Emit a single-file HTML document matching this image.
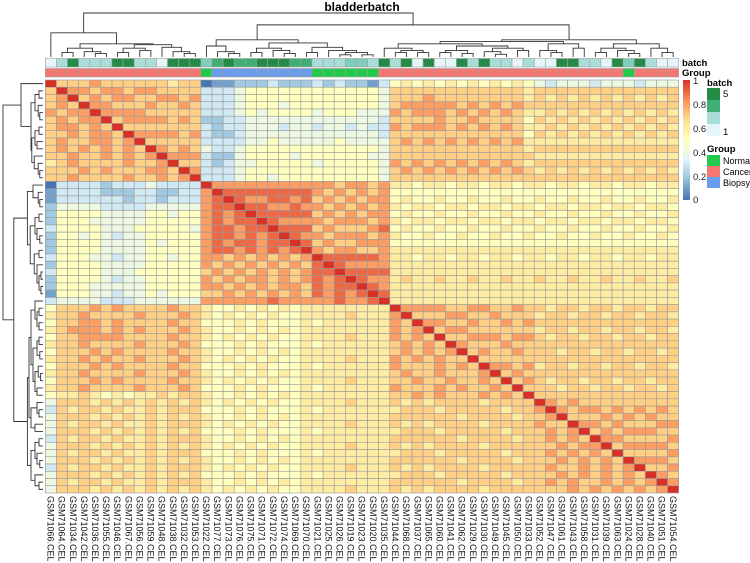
<!DOCTYPE html>
<html><head><meta charset="utf-8"><title>bladderbatch</title>
<style>
html,body{margin:0;padding:0;background:#fff;}
svg{display:block;font-family:"Liberation Sans",Arial,sans-serif;}
</style></head>
<body>
<svg id="chart" width="750" height="563" viewBox="0 0 750 563" xmlns="http://www.w3.org/2000/svg">
<g id="dendroTop" fill="none" stroke="#333" stroke-width="0.9"></g>
<g id="dendroLeft" fill="none" stroke="#333" stroke-width="0.9"></g>
<rect x="325" y="1" width="78" height="11" fill="#fff"/>
<text x="362" y="11" text-anchor="middle" font-size="12" font-weight="bold">bladderbatch</text>
<g id="annot"></g>
<g id="cells"></g>
<g id="labels"></g>
<text x="682" y="66" font-size="9.5" font-weight="bold">batch</text>
<text x="682" y="76" font-size="9.5" font-weight="bold">Group</text>
<defs>
<linearGradient id="cbar" x1="0" y1="1" x2="0" y2="0">
<stop offset="0" stop-color="#4575B4"/><stop offset="0.1667" stop-color="#91BFDB"/><stop offset="0.3333" stop-color="#E0F3F8"/><stop offset="0.5" stop-color="#FFFFBF"/><stop offset="0.6667" stop-color="#FEE090"/><stop offset="0.8333" stop-color="#FC8D59"/><stop offset="1" stop-color="#D73027"/>
</linearGradient>
</defs>
<g>
<rect x="683" y="80" width="7" height="120" fill="url(#cbar)"/>
<g font-size="9.5" fill="#222">
<text x="693" y="84">1</text>
<text x="693" y="108">0.8</text>
<text x="693" y="132">0.6</text>
<text x="693" y="156">0.4</text>
<text x="693" y="180">0.2</text>
<text x="693" y="203">0</text>
</g>
</g>
<g>
<text x="707" y="86" font-size="9.5" font-weight="bold">batch</text>
<rect x="707" y="88" width="13" height="12" fill="#238B45"/>
<rect x="707" y="100" width="13" height="12" fill="#41AE76"/>
<rect x="707" y="112" width="13" height="12" fill="#A8DDD8"/>
<rect x="707" y="124" width="13" height="12" fill="#E5F5F9"/>
<text x="723" y="97" font-size="9.5">5</text>
<text x="723" y="135" font-size="9.5">1</text>
</g>
<g>
<text x="707" y="152" font-size="9.5" font-weight="bold">Group</text>
<rect x="707" y="155" width="13" height="11" fill="#22C94A"/>
<rect x="707" y="166" width="13" height="11" fill="#F47772"/>
<rect x="707" y="177" width="13" height="11" fill="#6A9CEC"/>
<text x="723" y="164" font-size="9">Normal</text>
<text x="723" y="175" font-size="9">Cancer</text>
<text x="723" y="186" font-size="9">Biopsy</text>
</g>
</svg>
<script>
const samples = ["GSM71066","GSM71064","GSM71034","GSM71042","GSM71036","GSM71055","GSM71046","GSM71067","GSM71056","GSM71059","GSM71048","GSM71038","GSM71032","GSM71053","GSM71022","GSM71077","GSM71073","GSM71076","GSM71075","GSM71071","GSM71072","GSM71074","GSM71069","GSM71070","GSM71021","GSM71025","GSM71026","GSM71019","GSM71023","GSM71020","GSM71035","GSM71044","GSM71068","GSM71037","GSM71065","GSM71060","GSM71041","GSM71062","GSM71029","GSM71030","GSM71049","GSM71045","GSM71050","GSM71033","GSM71052","GSM71047","GSM71061","GSM71043","GSM71058","GSM71031","GSM71039","GSM71063","GSM71024","GSM71028","GSM71040","GSM71051","GSM71054"];
const batchValues = [1,2,5,2,2,2,5,5,2,2,1,5,5,5,3,4,5,4,4,5,5,5,4,4,2,2,2,3,3,2,5,2,5,1,5,1,1,5,2,5,2,2,1,2,1,1,5,5,2,2,1,5,3,5,2,1,1];
const groupValues = ["C","C","C","C","C","C","C","C","C","C","C","C","C","C","N","B","B","B","B","B","B","B","B","B","N","N","N","N","N","N","C","C","C","C","C","C","C","C","C","C","C","C","C","C","C","C","C","C","C","C","C","C","N","C","C","C","C"];
// lower-triangle correlation matrix, digit d = d/10, X = 1
const corrRows = [
"X","7X","78X","787X","8788X","78788X","788787X","7787887X","78778878X","787878787X","7787787878X","67877778778X","777878777887X","7787777877878X",
"03333233343333X",
"13333222332233"+"8X",
"13333332332333"+"89X",
"24444333344444"+"899X",
"25555444455455"+"8989X",
"25554444455555"+"89899X",
"35555444555554"+"899899X",
"25545434455555"+"8998989X",
"25555444454555"+"89899899X",
"25555444455555"+"899898989X",
"35554434455455"+"8878787878X",
"25555444455555"+"8787878787"+"9X",
"35555444555555"+"7878787878"+"99X",
"25555434455555"+"8787887878"+"989X",
"25554444455555"+"8878787887"+"9899X",
"15554434454555"+"7787878787"+"98989X",
"34444333444444"+"8888889888889889"+"X",
"57778787777877"+"6556565656666666"+"6X",
"67787777877787"+"6565656556666766"+"68X",
"57788787777877"+"5556565556566666"+"687X",
"67888787877787"+"6556565656666666"+"6878X",
"57788887777877"+"6565656556666766"+"68787X",
"67787777877787"+"5556565556566666"+"678787X",
"57778787777877"+"6556565656666666"+"6787878X",
"67787877877787"+"6565656556666766"+"68787877X",
"57778787777877"+"5556565556566666"+"687778787X",
"67787777877787"+"6556565656666666"+"6787787778X",
"57778787777877"+"6565656556666766"+"67787787787X",
"67787777877787"+"5556565556566666"+"687778787787X",
"56676565667677"+"6556565656666666"+"6778787778787X",
"47776767676767"+"6565656556666766"+"67676777767777"+"X",
"37677676676777"+"5556565556566666"+"66777677777677"+"8X",
"47776767676767"+"6556565656666666"+"67777776777767"+"78X",
"47677676676777"+"6565656556666766"+"67676777767777"+"877X",
"47776767676767"+"5556565556566666"+"66777677777677"+"7878X",
"37677676676777"+"6556565656666666"+"67777776777767"+"78787X",
"47776767676767"+"6565656556666766"+"67676777767777"+"778788X",
"47677676676777"+"5556565556566666"+"66777677777677"+"7878787X",
"47776767676767"+"6556565656666666"+"67777776777767"+"77878787X",
"37677676676777"+"6565656556666766"+"67676777767777"+"787787878X",
"47776767676767"+"5556565556566666"+"66777677777677"+"7787878787X",
"47677676676777"+"6556565656666666"+"67777776777767"+"78787787878X",
"47776767676767"+"6565656556666766"+"67676777767777"+"777878787878X"
];
// dendrogram: [height, left, right]; leaves are sample indices
const treeA = [0.55,0,[0.3,[0.2,[0.1,1,2],[0.12,3,[0.08,4,5]]],[0.28,[0.2,[0.1,6,7],[0.15,8,9]],[0.22,10,[0.12,11,[0.08,12,13]]]]]];
const treeB = [0.39,[0.25,14,[0.12,15,[0.08,16,17]]],[0.32,[0.2,[0.1,18,19],[0.15,20,[0.08,21,22]]],[0.22,[0.1,23,24],[0.15,25,[0.1,[0.05,26,27],[0.05,28,29]]]]]];
const treeC = [0.39,[0.35,[0.3,[0.2,30,[0.15,[0.1,31,32],[0.1,33,34]]],[0.25,[0.15,[0.1,35,36],[0.08,37,38]],[0.2,[0.12,39,[0.06,40,41]],[0.15,42,43]]]],[0.3,[0.15,44,[0.1,45,46]],[0.2,47,48]]],[0.3,[0.2,[0.1,49,50],[0.15,51,[0.08,52,53]]],[0.2,54,[0.1,55,56]]]];
const tree = [1,treeA,[0.73,treeB,treeC]];

const NS="http://www.w3.org/2000/svg";
const n = samples.length, X0=45.3, Y0=80, CW=(678.7-45.3)/n, RH=(493-80)/n;
const xPos = i => X0 + i*CW;
const yPos = i => Y0 + i*RH;
const stops=[[69,117,180],[145,191,219],[224,243,248],[255,255,191],[254,224,144],[252,141,89],[215,48,39]];
function colorFor(v){
  v=Math.max(0,Math.min(1,v)); const t=v*6, k=Math.min(5,Math.floor(t)), f=t-k;
  const a=stops[k], b=stops[k+1];
  return "rgb("+a.map((c,i)=>Math.round(c+(b[i]-c)*f)).join(",")+")";
}
function corr(i,j){
  const a=Math.max(i,j), b=Math.min(i,j);
  const c=(corrRows[a]||"")[b];
  if(a===b||c==="X") return 1;
  return c===undefined?0.7:(+c)/10;
}
const batchCol={1:"#E5F5F9",2:"#A8DDD8",3:"#7FCDBB",4:"#41AE76",5:"#238B45"};
const groupCol={N:"#22C94A",C:"#F47772",B:"#6A9CEC"};

const cells=document.getElementById("cells");
for(let i=0;i<n;i++){for(let j=0;j<n;j++){
  const r=document.createElementNS(NS,"rect");
  
  
  r.setAttribute("x",xPos(j).toFixed(2)); r.setAttribute("y",yPos(i).toFixed(2));
  r.setAttribute("width",CW.toFixed(2)); r.setAttribute("height",RH.toFixed(2));
  r.setAttribute("fill",colorFor(corr(i,j)));
  r.setAttribute("stroke","#999999"); r.setAttribute("stroke-width","0.6");
  cells.appendChild(r);
}}
const annot=document.getElementById("annot");
for(let j=0;j<n;j++){
  const b=document.createElementNS(NS,"rect");
  
  
  b.setAttribute("x",xPos(j).toFixed(2)); b.setAttribute("y","58.5");
  b.setAttribute("width",CW.toFixed(2)); b.setAttribute("height","8.5");
  b.setAttribute("fill",batchCol[batchValues[j]]); b.setAttribute("stroke","#a0a0a0"); b.setAttribute("stroke-width","0.6");
  annot.appendChild(b);
  const g=document.createElementNS(NS,"rect");
  
  
  g.setAttribute("x",xPos(j).toFixed(2)); g.setAttribute("y","68.5");
  g.setAttribute("width",CW.toFixed(2)); g.setAttribute("height","8.5");
  g.setAttribute("fill",groupCol[groupValues[j]]); g.setAttribute("stroke","#a0a0a0"); g.setAttribute("stroke-width","0.6");
  annot.appendChild(g);
  const t=document.createElementNS(NS,"text");
  
  
  const cx=xPos(j)+CW/2-3.3;
  t.setAttribute("transform","translate("+cx.toFixed(2)+",496) rotate(90)");
  t.setAttribute("font-size","9"); t.setAttribute("fill","#111");
  t.textContent=samples[j]+".CEL";
  document.getElementById("labels").appendChild(t);
}
function drawTree(node,g,horiz){
  if(typeof node==="number") return {p:node+0.5,h:0};
  const L=drawTree(node[1],g,horiz), R=drawTree(node[2],g,horiz), h=node[0];
  const path=document.createElementNS(NS,"path");
  
  
  let d;
  if(horiz){
    const y=v=>57-v*44, x=p=>X0+p*CW;
    d="M"+x(L.p)+","+y(L.h)+"V"+y(h)+"H"+x(R.p)+"V"+y(R.h);
  } else {
    const x=v=>43-v*40, y=p=>Y0+p*RH;
    d="M"+x(L.h)+","+y(L.p)+"H"+x(h)+"V"+y(R.p)+"H"+x(R.h);
  }
  path.setAttribute("d",d); g.appendChild(path);
  return {p:(L.p+R.p)/2,h:h};
}
drawTree(tree,document.getElementById("dendroTop"),true);
drawTree(tree,document.getElementById("dendroLeft"),false);
</script>
</body></html>
